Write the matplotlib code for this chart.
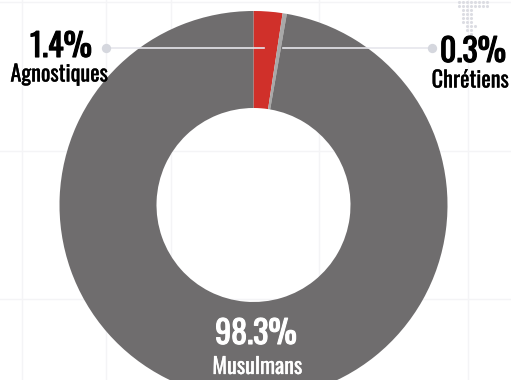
import numpy as np
import matplotlib
matplotlib.use("Agg")
import matplotlib.pyplot as plt
import matplotlib.patheffects as pe

# slice data (sizes as drawn in the picture, labels as printed)
names = ['Agnostiques', 'Chrétiens', 'Musulmans']
sizes = [2.4, 0.35, 97.25]
pct_text = ['1.4%', '0.3%', '98.3%']
colors = ['#d0302a', '#a8a8a8', '#6f6d6e']

font = ['Oswald', 'DejaVu Sans']

fig = plt.figure(figsize=(5.11, 3.80), dpi=100)
ax = fig.add_axes([0, 0, 1, 1])

# faint background grid
for gx in [22, 106, 171, 319, 468]:
    ax.axvline(gx, color='#f4f4f6', lw=1, zorder=0)
for gy in [2, 151, 299]:
    ax.axhline(gy, color='#f4f4f6', lw=1, zorder=0)

# dotted arrow top-right
dots_x, dots_y = [], []
for yy in [2, 6]:
    for xx in np.arange(459, 488, 4):
        dots_x.append(xx); dots_y.append(yy)
for yy in [10, 14, 18, 22]:
    for xx in [463, 467, 471]:
        dots_x.append(xx); dots_y.append(yy)
for xx, yy in [(467, 26), (471, 26), (475, 26), (467, 30), (471, 30), (471, 34)]:
    dots_x.append(xx); dots_y.append(yy)
ax.scatter(dots_x, dots_y, s=5, color='#dcdde3', zorder=1, linewidths=0)

# donut (y axis inverted -> counterclock=True runs clockwise on screen)
wedges, _ = ax.pie(sizes, colors=colors, startangle=-90, counterclock=True,
                   radius=194, center=(253.5, 205),
                   wedgeprops=dict(width=97, edgecolor='none'), frame=True)
ax.set_xlim(0, 511)
ax.set_ylim(380, 0)
ax.set_aspect('equal')
ax.axis('off')

# leader lines
ax.plot([106, 264], [48, 48], color='#e6e6ec', lw=1.2, zorder=5)
ax.plot([283, 432], [48, 48], color='#e6e6ec', lw=1.2, zorder=5)
ax.scatter([106, 432], [48, 48], s=45, color='#d5d7de', zorder=6, linewidths=0)


def label(x, y, s, size, col, stroke):
    ax.text(x, y, s, ha='center', va='baseline', fontsize=size, family=font,
            color=col, zorder=7,
            path_effects=[pe.withStroke(linewidth=stroke, foreground=col)])


# labels
label(61, 57, pct_text[0], 23, '#000000', 0.8)
label(59.5, 81.5, names[0], 16, '#000000', 0.2)
label(473, 62, pct_text[1], 23, '#000000', 0.8)
label(470.5, 87.5, names[1], 16, '#000000', 0.2)
label(256, 344, pct_text[2], 23, 'white', 0.8)
label(257.5, 374, names[2], 16, 'white', 0.2)

fig.savefig('out.png', dpi=100)
